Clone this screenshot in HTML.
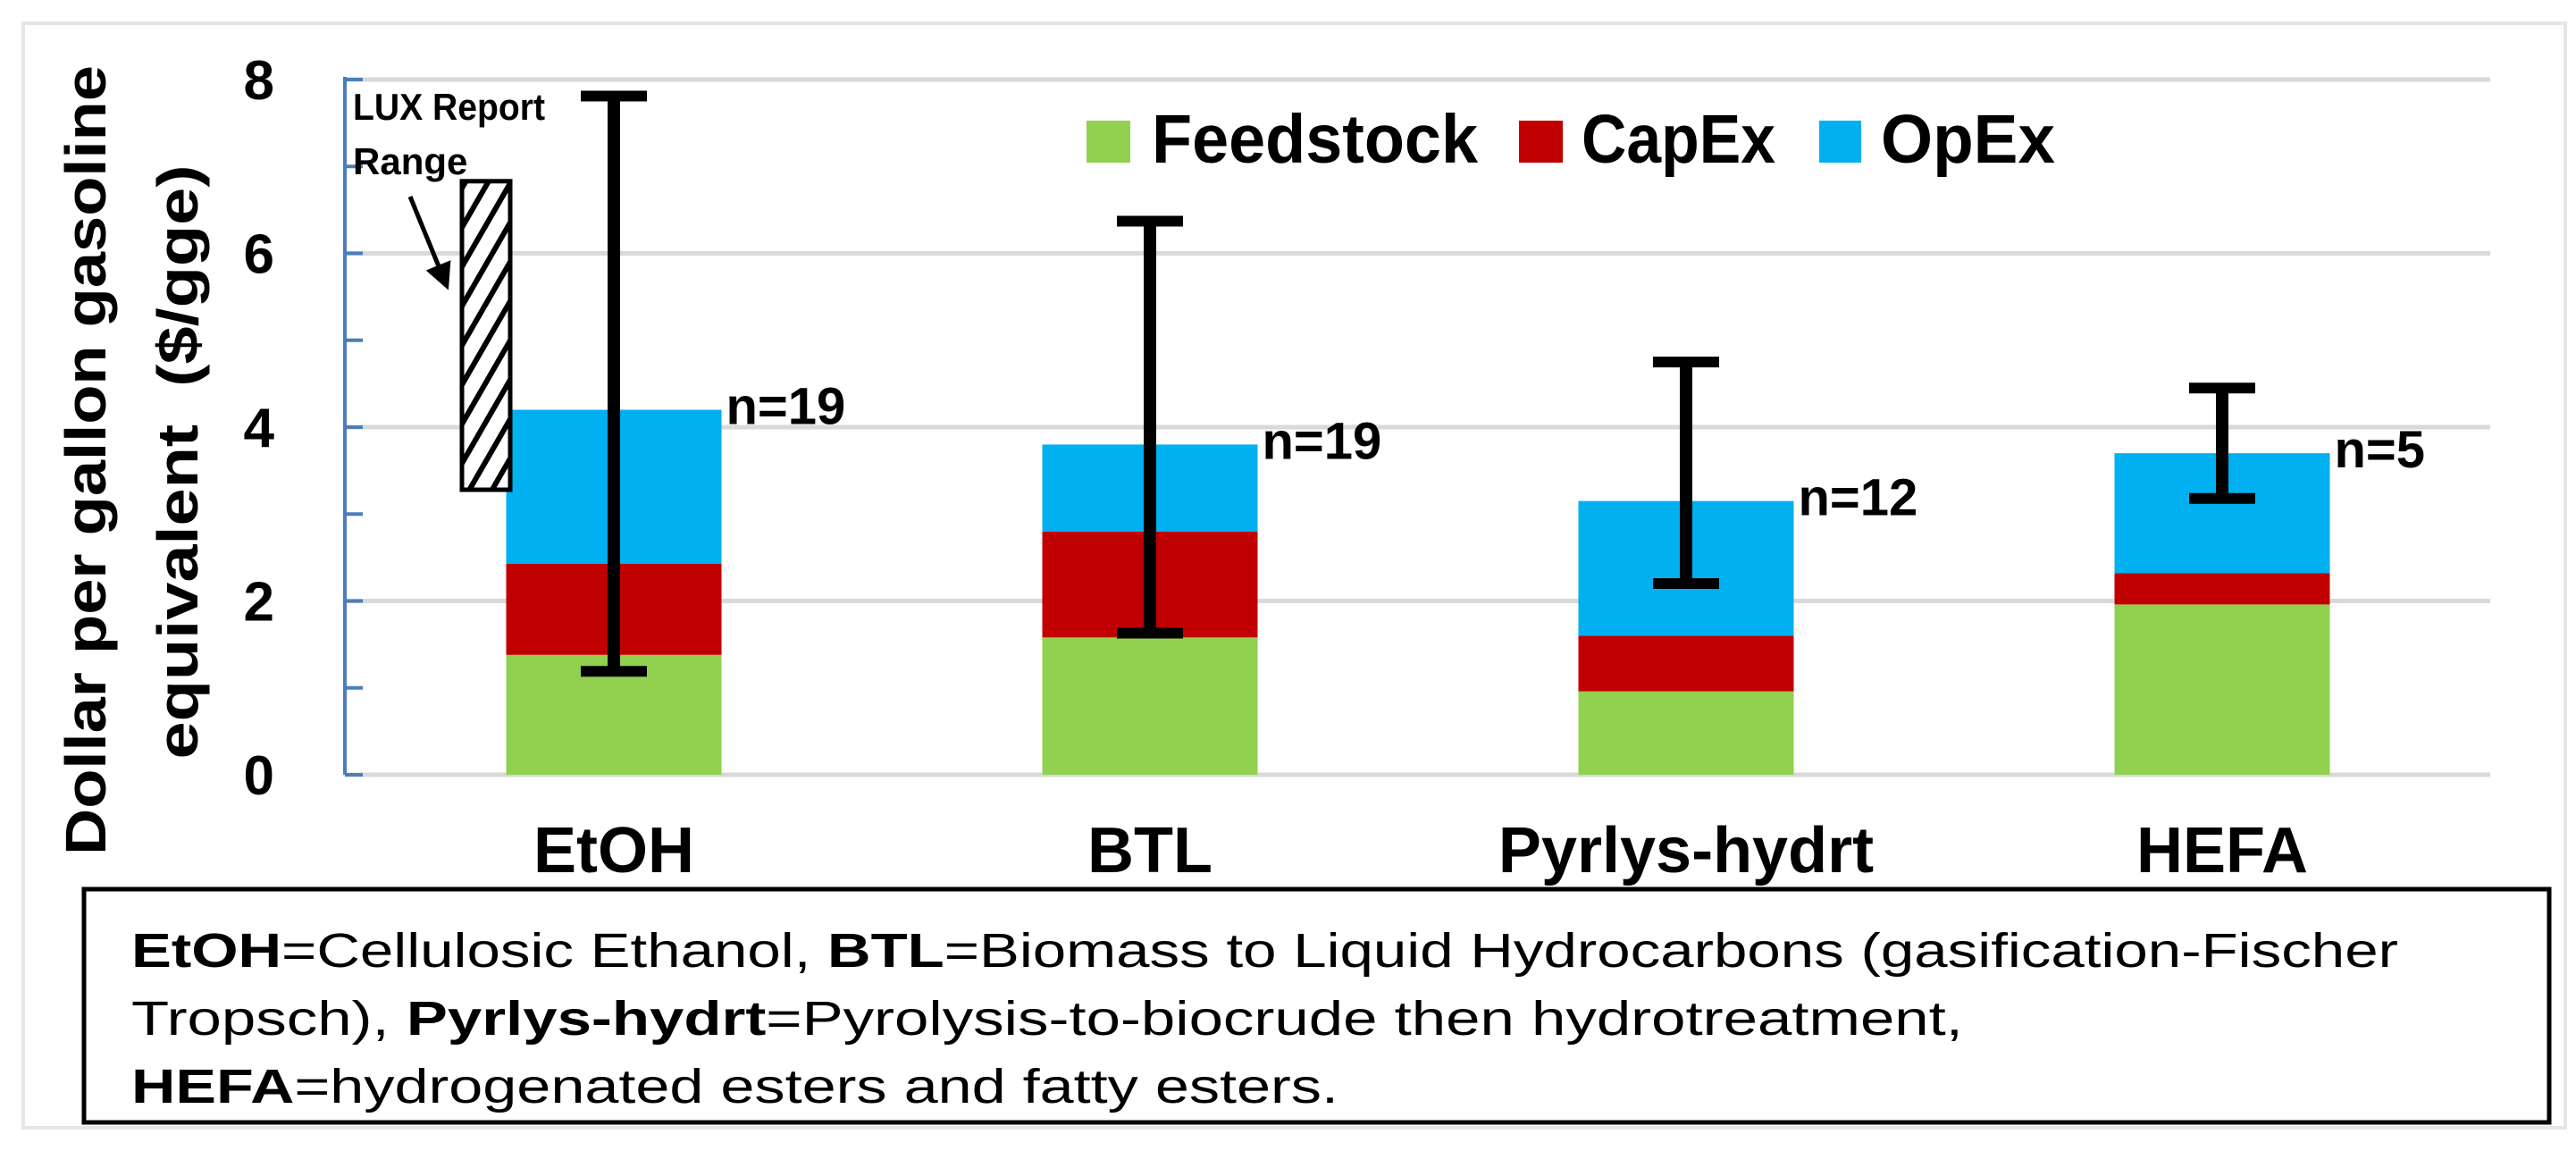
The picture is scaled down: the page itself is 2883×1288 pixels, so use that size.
<!DOCTYPE html>
<html><head><meta charset="utf-8"><style>
html,body{margin:0;padding:0;background:#fff;}
svg{display:block;}
text{font-family:"Liberation Sans",sans-serif;}
</style></head><body>
<svg id="chart" width="2883" height="1288" viewBox="0 0 2883 1288" xmlns="http://www.w3.org/2000/svg">
<defs>
<pattern id="hatch" width="22" height="22" patternUnits="userSpaceOnUse" patternTransform="rotate(30)">
<rect width="22" height="22" fill="#fff"/><rect x="0" y="0" width="6" height="22" fill="#000"/>
</pattern>
<marker id="arrowhead" markerWidth="6" markerHeight="6" refX="5" refY="3" orient="auto" markerUnits="strokeWidth"><path d="M0,0 L6,3 L0,6 z" fill="#000"/></marker>
</defs>
<rect x="26" y="26" width="2845" height="1236" fill="none" stroke="#e6e6e6" stroke-width="4"/>
<g id="grid"></g>
<g id="bars"></g>
<g id="axis"></g>
<g id="lux">
<text x="395" y="134" font-size="42" font-weight="bold" textLength="215" lengthAdjust="spacingAndGlyphs">LUX Report</text>
<text x="395" y="195" font-size="42" font-weight="bold">Range</text>
<line x1="459" y1="220" x2="500" y2="320" stroke="#000" stroke-width="5" marker-end="url(#arrowhead)"/>
</g>
<g id="errs"></g>
<g id="legend">
<rect x="1216" y="135" width="49" height="47" fill="#92D050"/>
<text x="1289" y="182" font-size="77" font-weight="bold" textLength="365" lengthAdjust="spacingAndGlyphs">Feedstock</text>
<rect x="1700" y="135" width="49" height="47" fill="#C00000"/>
<text x="1770" y="182" font-size="77" font-weight="bold" textLength="217" lengthAdjust="spacingAndGlyphs">CapEx</text>
<rect x="2036" y="135" width="47" height="47" fill="#00B0F0"/>
<text x="2105" y="182" font-size="77" font-weight="bold" textLength="195" lengthAdjust="spacingAndGlyphs">OpEx</text>
</g>
<text transform="translate(118,515) rotate(-90)" text-anchor="middle" font-size="64" font-weight="bold" textLength="884" lengthAdjust="spacingAndGlyphs">Dollar per gallon gasoline</text>
<text transform="translate(221,517) rotate(-90)" text-anchor="middle" font-size="64" font-weight="bold" textLength="665" lengthAdjust="spacingAndGlyphs" xml:space="preserve">equivalent  ($/gge)</text>
<g>
<rect x="94" y="995" width="2759" height="261" fill="none" stroke="#000" stroke-width="5"/>
<text x="147" y="1082" font-size="54" textLength="2537" lengthAdjust="spacingAndGlyphs"><tspan font-weight="bold">EtOH</tspan>=Cellulosic Ethanol, <tspan font-weight="bold">BTL</tspan>=Biomass to Liquid Hydrocarbons (gasification-Fischer</text>
<text x="147" y="1158" font-size="54" textLength="2050" lengthAdjust="spacingAndGlyphs">Tropsch), <tspan font-weight="bold">Pyrlys-hydrt</tspan>=Pyrolysis-to-biocrude then hydrotreatment,</text>
<text x="147" y="1234" font-size="54" textLength="1351" lengthAdjust="spacingAndGlyphs"><tspan font-weight="bold">HEFA</tspan>=hydrogenated esters and fatty esters.</text>
</g>
</svg>
<script>
const categories = ["EtOH","BTL","Pyrlys-hydrt","HEFA"];
const feedstock = [1.38, 1.58, 0.96, 1.96];
const capex = [1.05, 1.22, 0.64, 0.36];
const opex = [1.77, 1.0, 1.55, 1.38];
const errHigh = [7.81, 6.37, 4.75, 4.45];
const errLow = [1.19, 1.63, 2.2, 3.18];
const nLabels = ["n=19","n=19","n=12","n=5"];
const yTicks = [0,2,4,6,8];
const luxRange = [3.28, 6.83];

const NS = "http://www.w3.org/2000/svg";
const X0 = 386, X1 = 2787, Y0 = 867, YTOP = 89, YMAX = 8;
const yS = v => Y0 - v * (Y0 - YTOP) / YMAX;
const catStart = 687, catStep = 600;
const xC = i => catStart + i * catStep;
const BW = 241;
function mk(tag, attrs, parent){const e=document.createElementNS(NS,tag);for(const k in attrs)e.setAttribute(k,attrs[k]);parent.appendChild(e);return e;}
const grid = document.getElementById('grid'), bars = document.getElementById('bars'), axis = document.getElementById('axis'), errs = document.getElementById('errs');
yTicks.forEach(t => {
  const l = mk('line',{x1:X0,x2:X1,y1:yS(t),y2:yS(t),stroke:'#d9d9d9','stroke-width':5},grid);
  
  
  const tx = mk('text',{x:307,y:yS(t)+22,'text-anchor':'end','font-size':62,'font-weight':'bold'},axis);
  tx.textContent = t;
  
  
});
const al = mk('line',{x1:X0,x2:X0,y1:yS(8)-3,y2:Y0,stroke:'#4a7ebb','stroke-width':4},axis);


for(let v=0; v<=YMAX; v++){
  const tk = mk('line',{x1:X0,x2:X0+20,y1:yS(v),y2:yS(v),stroke:'#4a7ebb','stroke-width':4},axis);
  
  
}
const lux = mk('rect',{x:517,y:yS(luxRange[1]),width:54,height:yS(luxRange[0])-yS(luxRange[1]),fill:'url(#hatch)',stroke:'#000','stroke-width':5},document.getElementById('lux'));


const colors = ['#92D050','#C00000','#00B0F0'];
const segNames = ['feedstock','capex','opex'];
categories.forEach((c,i) => {
  const vals = [feedstock[i], capex[i], opex[i]];
  let base = 0;
  vals.forEach((v,k) => {
    const r = mk('rect',{x:xC(i)-BW/2,y:yS(base+v),width:BW,height:yS(base)-yS(base+v),fill:colors[k]},bars);
    
    
    base += v;
  });
  const nl = mk('text',{x:xC(i)+BW/2+5,y:yS(base)+16,'font-size':58,'font-weight':'bold'},bars);
  nl.textContent = nLabels[i];
  
  
  const cl = mk('text',{x:xC(i),y:976,'text-anchor':'middle','font-size':72,'font-weight':'bold'},bars);
  cl.textContent = c;
  
  
  const g = mk('g',{stroke:'#000','stroke-width':14},errs);
  
  
  mk('line',{x1:xC(i),x2:xC(i),y1:yS(errHigh[i]),y2:yS(errLow[i])},g);
  mk('line',{x1:xC(i)-37,x2:xC(i)+37,y1:yS(errHigh[i]),y2:yS(errHigh[i]),'stroke-width':12},g);
  mk('line',{x1:xC(i)-37,x2:xC(i)+37,y1:yS(errLow[i]),y2:yS(errLow[i]),'stroke-width':12},g);
});
</script>
</body></html>
